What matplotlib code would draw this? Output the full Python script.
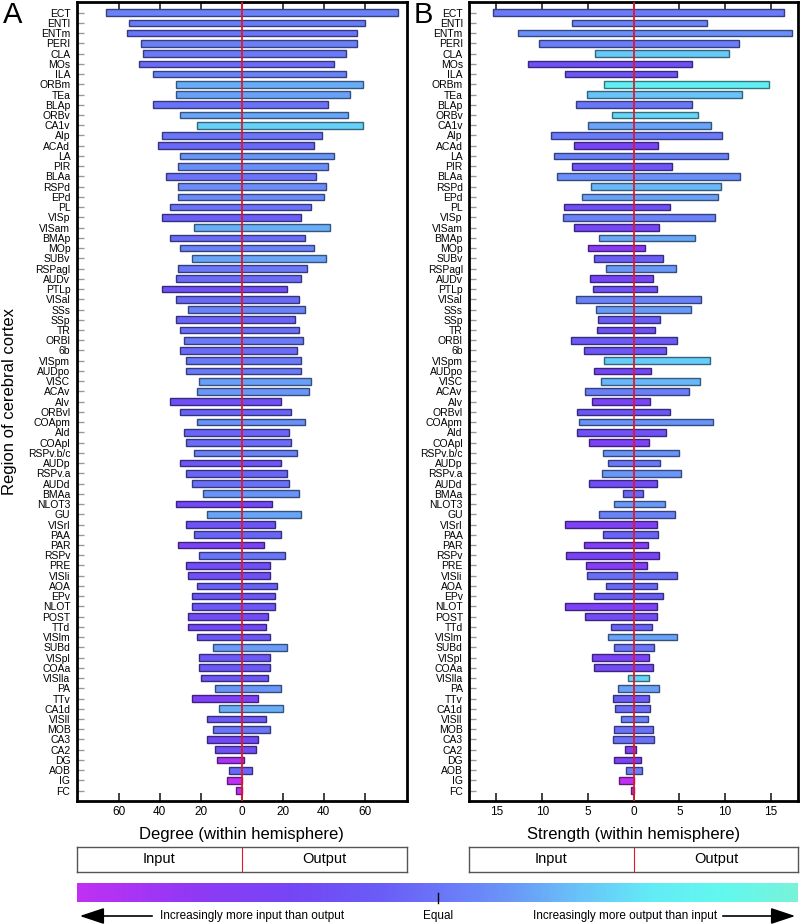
import numpy as np
import matplotlib
matplotlib.use("Agg")
import matplotlib.pyplot as plt
from matplotlib.colors import LinearSegmentedColormap, Normalize
from matplotlib.colorbar import ColorbarBase
from matplotlib.patches import FancyArrowPatch
from matplotlib.lines import Line2D

plt.rcParams["font.family"] = ["Liberation Sans", "DejaVu Sans"]

regions = [
    "ECT", "ENTl", "ENTm", "PERI", "CLA", "MOs", "ILA", "ORBm", "TEa", "BLAp",
    "ORBv", "CA1v", "AIp", "ACAd", "LA", "PIR", "BLAa", "RSPd", "EPd", "PL",
    "VISp", "VISam", "BMAp", "MOp", "SUBv", "RSPagl", "AUDv", "PTLp", "VISal", "SSs",
    "SSp", "TR", "ORBl", "6b", "VISpm", "AUDpo", "VISC", "ACAv", "AIv", "ORBvl",
    "COApm", "AId", "COApl", "RSPv.b/c", "AUDp", "RSPv.a", "AUDd", "BMAa", "NLOT3", "GU",
    "VISrl", "PAA", "PAR", "RSPv", "PRE", "VISli", "AOA", "EPv", "NLOT", "POST",
    "TTd", "VISlm", "SUBd", "VISpl", "COAa", "VISlla", "PA", "TTv", "CA1d", "VISll",
    "MOB", "CA3", "CA2", "DG", "AOB", "IG", "FC",
]

# degree (within hemisphere)
degree_in = [
    66, 55, 56, 49, 48, 50, 43, 32, 32, 43,
    30, 22, 39, 41, 30, 31, 37, 31, 31, 35,
    39, 23, 35, 30, 24, 31, 32, 39, 32, 26,
    32, 30, 28, 30, 27, 27, 21, 22, 35, 30,
    22, 28, 27, 23, 30, 27, 24, 19, 32, 17,
    27, 23, 31, 21, 27, 26, 22, 24, 24, 26,
    26, 22, 14, 21, 21, 20, 13, 24, 11, 17,
    14, 17, 13, 12, 6, 7, 3,
]
degree_out = [
    76, 60, 56, 56, 51, 45, 51, 59, 53, 42,
    52, 59, 39, 35, 45, 42, 36, 41, 40, 34,
    29, 43, 31, 35, 41, 32, 29, 22, 28, 31,
    26, 28, 30, 27, 29, 29, 34, 33, 19, 24,
    31, 23, 24, 27, 19, 22, 23, 28, 15, 29,
    16, 19, 11, 21, 14, 14, 17, 16, 16, 13,
    12, 14, 22, 14, 14, 13, 19, 8, 20, 12,
    14, 8, 7, 1, 5, 0, 0,
]

# strength (within hemisphere)
strength_in = [
    15.4, 6.7, 12.6, 10.4, 4.2, 11.5, 7.5, 3.2, 5.1, 6.3,
    2.4, 5.0, 9.0, 6.5, 8.7, 6.7, 8.4, 4.7, 5.6, 7.6,
    7.7, 6.5, 3.8, 5.0, 4.3, 3.0, 4.8, 4.4, 6.3, 4.1,
    3.9, 4.0, 6.8, 5.4, 3.2, 4.3, 3.6, 5.3, 4.6, 6.2,
    6.0, 6.2, 4.9, 3.4, 2.8, 3.5, 4.9, 1.2, 2.2, 3.8,
    7.5, 3.4, 5.4, 7.4, 5.2, 5.1, 3.0, 4.3, 7.5, 5.3,
    2.5, 2.8, 2.2, 4.6, 4.3, 0.6, 1.7, 2.3, 2.0, 1.4,
    2.2, 2.3, 1.0, 2.2, 0.8, 1.6, 0.3,
]
strength_out = [
    16.4, 8.0, 17.3, 11.5, 10.4, 6.4, 4.7, 14.8, 11.8, 6.4,
    7.0, 8.5, 9.7, 2.7, 10.3, 4.2, 11.6, 9.5, 9.2, 4.0,
    8.9, 2.8, 6.7, 1.2, 3.2, 4.6, 2.1, 2.6, 7.4, 6.3,
    2.9, 2.3, 4.7, 3.5, 8.3, 1.9, 7.3, 6.0, 1.8, 4.0,
    8.7, 3.5, 1.7, 5.0, 2.9, 5.2, 2.5, 1.0, 3.4, 4.5,
    2.6, 2.7, 1.6, 2.8, 1.5, 4.7, 2.6, 3.2, 2.6, 2.6,
    2.0, 4.7, 2.2, 1.7, 2.1, 1.7, 2.8, 1.7, 1.8, 1.6,
    2.1, 2.2, 0.3, 0.8, 0.9, 0.0, 0.0,
]

cmap = LinearSegmentedColormap.from_list("in_out", [
    (0.00, "#c030f2"), (0.15, "#9238f5"), (0.30, "#7446f5"),
    (0.42, "#6a5cf6"), (0.50, "#6a74f8"), (0.60, "#6a96f8"),
    (0.70, "#68c4f8"), (0.80, "#62ecf6"), (0.90, "#62f8ee"),
    (1.00, "#78f2d8"),
])
norm = Normalize(0, 1)

W, H = 802, 924
fig = plt.figure(figsize=(W / 100, H / 100), dpi=100)

red = "#e0182e"
ax_bottom = 1 - 800.7 / H
ax_height = (800.7 - 2) / H


def panel(x0, x1, inputs, outputs, lim, ticks, xlabel, letter, letter_x):
    left, width = x0 / W, (x1 - x0) / W
    ax = fig.add_axes([left, ax_bottom, width, ax_height])
    inp = np.array(inputs, dtype=float)
    out = np.array(outputs, dtype=float)
    face = cmap(norm(out / (inp + out)))
    edge = face.copy()
    edge[:, :3] *= 0.5
    y = np.arange(len(regions))
    ax.barh(y, inp + out, left=-inp, height=0.65, color=face,
            edgecolor=edge, linewidth=1.0, zorder=2)
    ax.axvline(0, color=red, lw=1.3, zorder=3)
    ax.set_xlim(-lim, lim)
    ax.set_ylim(76.98, -1.04)
    ax.set_yticks(y)
    ax.set_yticklabels(regions)
    ax.set_xticks(ticks)
    ax.set_xticklabels([str(abs(t)) for t in ticks])
    ax.tick_params(axis="x", direction="in", top=True, bottom=True, length=6,
                   width=1.3, color="#333333", labelsize=8.5, pad=4)
    ax.tick_params(axis="y", direction="in", length=5, width=1,
                   color="#999999", labelsize=7.5, pad=4.5)
    for s in ax.spines.values():
        s.set_linewidth(2)
    ax.set_xlabel(xlabel, fontsize=12, labelpad=6)
    fig.text(letter_x / W, 0.999, letter, fontsize=21, va="top", ha="left")

    # input / output legend box
    bx = fig.add_axes([left, 1 - 872 / H, width, 25 / H])
    bx.set_xlim(-lim, lim)
    bx.set_ylim(0, 1)
    bx.axvline(0, color=red, lw=0.8)
    bx.set_xticks([])
    bx.set_yticks([])
    for s in bx.spines.values():
        s.set_linewidth(1)
        s.set_color("#555555")
    bx.text(-lim / 2, 0.5, "Input", ha="center", va="center", fontsize=10.5)
    bx.text(lim / 2, 0.5, "Output", ha="center", va="center", fontsize=10.5)
    return ax


axA = panel(76.7, 406.7, degree_in, degree_out, 80.4,
            [-60, -40, -20, 0, 20, 40, 60], "Degree (within hemisphere)", "A", 3)
axB = panel(469, 798.3, strength_in, strength_out, 18.0,
            [-15, -10, -5, 0, 5, 10, 15], "Strength (within hemisphere)", "B", 414)

fig.text(10 / W, axA.get_position().y0 + ax_height / 2, "Region of cerebral cortex",
         rotation=90, fontsize=12, ha="center", va="center")

# colour scale
cax = fig.add_axes([77 / W, 1 - 902 / H, 721 / W, 19 / H])
cb = ColorbarBase(cax, cmap=cmap, norm=norm, orientation="horizontal")
cb.outline.set_visible(False)
cax.set_xticks([])
cax.set_yticks([])

xe = 437.7 / W
fig.add_artist(Line2D([xe, xe], [1 - 893 / H, 1 - 903 / H], color="black", lw=1,
                      transform=fig.transFigure))
fig.text(xe, 1 - 916 / H, "Equal", ha="center", va="center", fontsize=8.5)

ya = 1 - 916 / H
for tail, tip in [(155, 77), (720, 798)]:
    fig.add_artist(FancyArrowPatch((tail / W, ya), (tip / W, ya),
                                   transform=fig.transFigure,
                                   arrowstyle="-|>,head_length=1.5,head_width=0.5",
                                   mutation_scale=10, lw=1.2, color="black"))
fig.text(160 / W, ya, "Increasingly more input than output", ha="left", va="center",
         fontsize=8.5)
fig.text(717 / W, ya, "Increasingly more output than input", ha="right", va="center",
         fontsize=8.5)

fig.savefig("out.png", dpi=100)
